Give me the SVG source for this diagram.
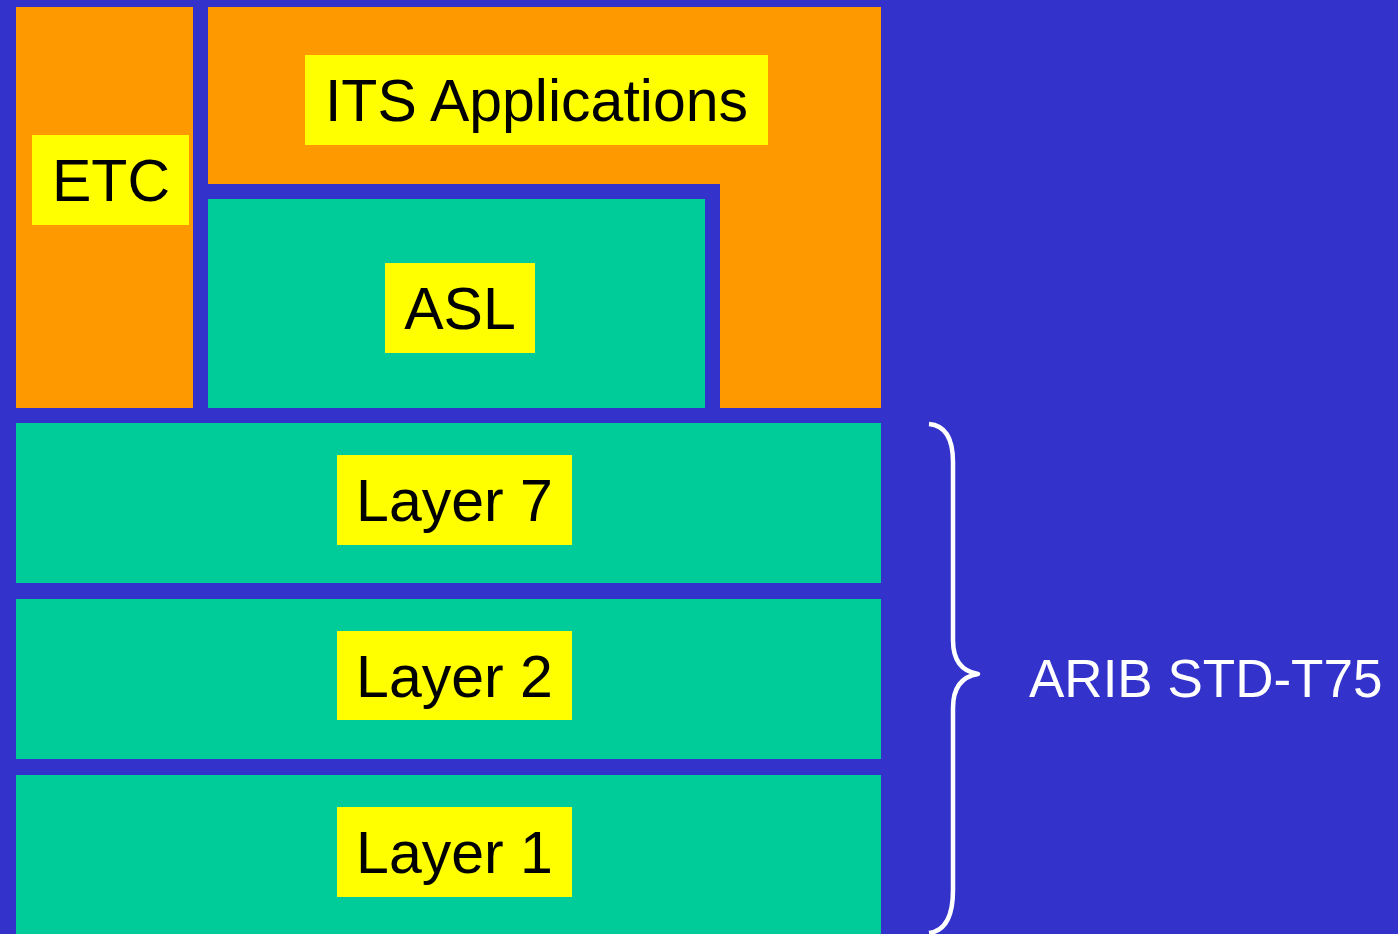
<svg xmlns="http://www.w3.org/2000/svg" width="1398" height="934" viewBox="0 0 1398 934">
  <style>
    .orange { fill: #FF9900; }
    .teal { fill: #00CC99; }
    .gap { fill: #3333CC; }
    .tag { fill: #FFFF00; }
    .lbl { font-family: "Liberation Sans", Arial, sans-serif; font-size: 59px; fill: #000000; text-anchor: middle; }
    .note { font-family: "Liberation Sans", Arial, sans-serif; font-size: 53px; fill: #FFFFFF; }
  </style>
  <rect x="0" y="0" width="1398" height="934" fill="#3333CC"/>

  <g id="etc">
    <rect class="orange" x="16" y="7" width="177" height="401"/>
    <rect class="tag" x="32" y="135" width="157" height="90"/>
    <text class="lbl" x="111" y="201">ETC</text>
  </g>

  <g id="its-applications">
    <rect class="orange" x="208" y="7" width="673" height="401"/>
    <rect class="gap" x="208" y="184" width="512" height="224"/>
    <rect class="tag" x="305" y="55" width="463" height="90"/>
    <text class="lbl" x="536.5" y="121">ITS Applications</text>
  </g>

  <g id="asl">
    <rect class="teal" x="208" y="199" width="497" height="209"/>
    <rect class="tag" x="385" y="263" width="150" height="90"/>
    <text class="lbl" x="460" y="329">ASL</text>
  </g>

  <g id="layer7">
    <rect class="teal" x="16" y="423" width="865" height="160"/>
    <rect class="tag" x="337" y="455" width="235" height="90"/>
    <text class="lbl" x="454.5" y="521">Layer 7</text>
  </g>

  <g id="layer2">
    <rect class="teal" x="16" y="599" width="865" height="160"/>
    <rect class="tag" x="337" y="631" width="235" height="89"/>
    <text class="lbl" x="454.5" y="697">Layer 2</text>
  </g>

  <g id="layer1">
    <rect class="teal" x="16" y="775" width="865" height="159"/>
    <rect class="tag" x="337" y="807" width="235" height="90"/>
    <text class="lbl" x="454.5" y="873">Layer 1</text>
  </g>

  <g id="connectors">
    <!-- curly brace grouping the lower layers -->
    <path d="M929,424 Q953,426 953,462 L953,640 Q953,670 978,674 Q953,678 953,708 L953,890 Q953,930 929,933"
          fill="none" stroke="#FFFFFF" stroke-width="4.5" stroke-linejoin="round"/>
  </g>

  <g id="arib-std-t75">
    <text class="note" x="1029" y="697">ARIB STD-T75</text>
  </g>
</svg>
